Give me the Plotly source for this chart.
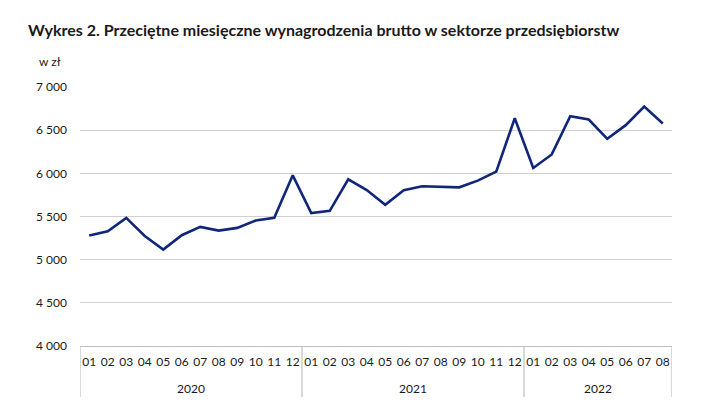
import plotly.graph_objects as go

years = ["2020"] * 12 + ["2021"] * 12 + ["2022"] * 8
months = ["01", "02", "03", "04", "05", "06", "07", "08", "09", "10", "11", "12"] * 2 + \
         ["01", "02", "03", "04", "05", "06", "07", "08"]
wages = [5279, 5329, 5484, 5275, 5116, 5283, 5380, 5337, 5368, 5453, 5484, 5977,
         5539, 5566, 5930, 5806, 5635, 5804, 5850, 5846, 5838, 5915, 6019, 6638,
         6062, 6219, 6662, 6623, 6400, 6558, 6773, 6577]

FONT = "Lato"
TXT = "#1a1a1a"
GRID = "#d0d0d0"
LINE = "#bfbfbf"

cats = [y + "-" + m for y, m in zip(years, months)]

fig = go.Figure()
fig.add_trace(go.Scatter(
    x=cats, y=wages, mode="lines",
    line=dict(color="#10267a", width=2.6),
    hoverinfo="x+y",
))

# year labels and dividers under the month labels
shapes = []
annotations = []
year_names = list(dict.fromkeys(years))
start = 0
for yr in year_names:
    n = years.count(yr)
    annotations.append(dict(
        text=yr, xref="x", yref="paper", x=start + (n - 1) / 2, y=-42 / 259,
        xanchor="center", yanchor="middle", showarrow=False,
        font=dict(family=FONT, size=12, color=TXT),
    ))
    shapes.append(dict(type="line", xref="x", yref="paper", x0=start - 0.5, x1=start - 0.5,
                       y0=0, y1=-51 / 259, line=dict(color=LINE, width=1.2)))
    start += n
shapes.append(dict(type="line", xref="x", yref="paper", x0=start - 0.5, x1=start - 0.5,
                   y0=0, y1=-51 / 259, line=dict(color=LINE, width=1.2)))

annotations.append(dict(
    text="w zł", xref="paper", yref="paper",
    x=(37 - 80) / 592, y=(346 - 62) / 259,
    xanchor="left", yanchor="middle", showarrow=False,
    font=dict(family=FONT, size=12, color=TXT),
))

fig.update_layout(
    width=702, height=420,
    margin=dict(l=80, r=30, t=87, b=74),
    paper_bgcolor="white", plot_bgcolor="white",
    showlegend=False,
    separators=", ",
    font=dict(family=FONT, size=12, color=TXT),
    title=dict(
        text="<b>Wykres 2. Przeciętne miesięczne wynagrodzenia brutto w sektorze przedsiębiorstw</b>",
        font=dict(family=FONT, size=16, color=TXT),
        xref="container", x=28 / 702, xanchor="left",
        yref="container", y=1 - 30 / 420, yanchor="middle",
    ),
    annotations=annotations,
    shapes=shapes,
)

fig.update_xaxes(
    type="category", automargin=False,
    range=[-0.5, len(cats) - 0.5],
    tickmode="array", tickvals=cats, ticktext=months,
    showline=True, linecolor=LINE, linewidth=1.2,
    showgrid=False,
    ticks="", tickangle=0, ticklabelstandoff=4,
    tickfont=dict(family=FONT, size=12, color=TXT),
)
fig.update_yaxes(
    automargin=False,
    range=[4000, 7000], dtick=500, tickformat=",d",
    showgrid=True, gridcolor=GRID, gridwidth=1.2,
    zeroline=False, showline=False,
    ticks="", ticklabelstandoff=12,
    tickfont=dict(family=FONT, size=12, color=TXT),
)

fig.write_html("out.html", config={"displayModeBar": False},
               post_script="document.body.style.margin='0';")
